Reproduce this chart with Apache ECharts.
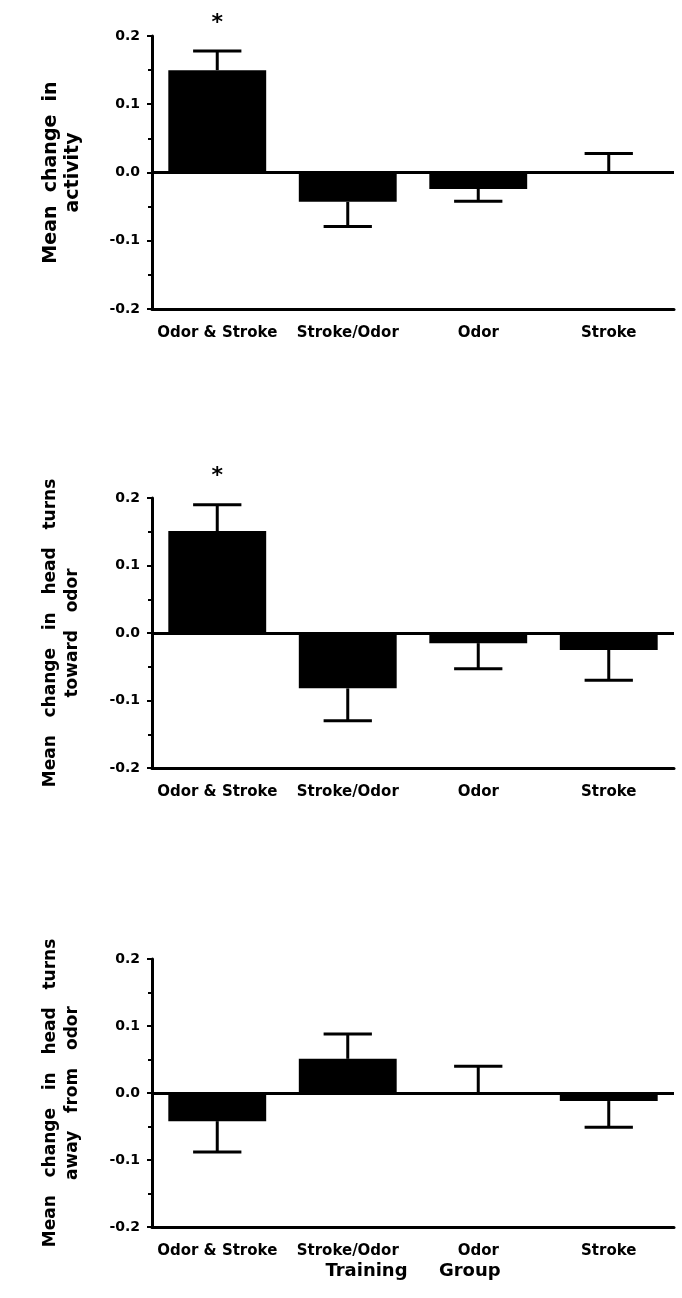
<!DOCTYPE html>
<html>
<head>
<meta charset="utf-8">
<script src="https://cdn.jsdelivr.net/npm/echarts@6/dist/echarts.min.js"></script>
<style>html,body{margin:0;padding:0;background:#fff;}#c{width:682px;height:1298px;}</style>
</head>
<body>
<div id="c"></div>
<script>
// ---- data ----
const categories = ['Odor & Stroke', 'Stroke/Odor', 'Odor', 'Stroke'];
const yTickLabels = ['-0.2', '-0.1', '0.0', '0.1', '0.2'];
const yTickValues = [-0.2, -0.1, 0.0, 0.1, 0.2];

const activityMean   = [0.150, -0.043, -0.024, 0.000];
const activityErrTip = [0.178, -0.079, -0.042, 0.028];
const activitySig    = ['*', '', '', ''];

const towardMean     = [0.151, -0.082, -0.015, -0.025];
const towardErrTip   = [0.190, -0.130, -0.053, -0.070];
const towardSig      = ['*', '', '', ''];

const awayMean       = [-0.042, 0.051, 0.000, -0.012];
const awayErrTip     = [-0.088, 0.088, 0.040, -0.051];
const awaySig        = ['', '', '', ''];

const yTitles = [
  'Mean  change  in\nactivity',
  'Mean   change   in   head   turns\ntoward   odor',
  'Mean   change   in   head   turns\naway   from   odor'
];
const xTitle = 'Training     Group';

// ---- layout ----
const panels = [
  { mean: activityMean, tip: activityErrTip, sig: activitySig, title: yTitles[0], top: 36,  height: 273, tsize: 19 },
  { mean: towardMean,   tip: towardErrTip,   sig: towardSig,   title: yTitles[1], top: 498, height: 270, tsize: 17 },
  { mean: awayMean,     tip: awayErrTip,     sig: awaySig,     title: yTitles[2], top: 959, height: 268, tsize: 17 }
];

const FONT = 'DejaVu Sans';
const grids = [], xAxes = [], yAxes = [], series = [];

panels.forEach((p, k) => {
  grids.push({ left: 152, right: 8, top: p.top, height: p.height });
  xAxes.push({
    type: 'category', gridIndex: k, data: categories,
    axisLine: { onZero: false, lineStyle: { color: '#000', width: 3 } },
    axisTick: { show: false },
    axisLabel: { interval: 0, color: '#000', fontFamily: FONT, fontWeight: 'bold', fontSize: 15, margin: 17 },
    name: k === 2 ? xTitle : '', nameLocation: 'middle', nameGap: 35,
    nameTextStyle: { color: '#000', fontFamily: FONT, fontWeight: 'bold', fontSize: 18 }
  });
  yAxes.push({
    type: 'value', gridIndex: k, min: -0.2, max: 0.2, interval: 0.1,
    splitLine: { show: false },
    axisLine: { show: true, lineStyle: { color: '#000', width: 3 } },
    axisTick: { show: true, length: 5, lineStyle: { color: '#000', width: 2 } },
    minorTick: { show: true, splitNumber: 2, length: 4, lineStyle: { color: '#000', width: 2 } },
    axisLabel: {
      color: '#000', fontFamily: FONT, fontWeight: 'bold', fontSize: 14, margin: 12,
      formatter: v => {
        const i = yTickValues.findIndex(t => Math.abs(t - v) < 1e-9);
        return i >= 0 ? yTickLabels[i] : '';
      }
    },
    name: p.title, nameLocation: 'middle', nameRotate: 90, nameGap: 68,
    nameTextStyle: { color: '#000', fontFamily: FONT, fontWeight: 'bold', fontSize: p.tsize, lineHeight: 22, align: 'center' }
  });
  series.push({
    type: 'bar', xAxisIndex: k, yAxisIndex: k, data: p.mean,
    barWidth: '75%', itemStyle: { color: '#000' }, silent: true,
    markLine: {
      silent: true, symbol: 'none', label: { show: false },
      lineStyle: { color: '#000', width: 3, type: 'solid' },
      data: [{ yAxis: 0 }], animation: false
    }
  });
  series.push({
    type: 'custom', xAxisIndex: k, yAxisIndex: k, silent: true,
    data: p.mean.map((m, i) => [i, m, p.tip[i]]),
    encode: { x: 0, y: [1, 2] },
    renderItem: (params, api) => {
      const i = api.value(0);
      const base = api.coord([i, api.value(1)]);
      const tip = api.coord([i, api.value(2)]);
      const half = api.size([1, 0])[0] * 0.185;
      const children = [
        { type: 'line', shape: { x1: base[0], y1: base[1], x2: tip[0], y2: tip[1] }, style: { stroke: '#000', lineWidth: 3 } },
        { type: 'line', shape: { x1: tip[0] - half, y1: tip[1], x2: tip[0] + half, y2: tip[1] }, style: { stroke: '#000', lineWidth: 3 } }
      ];
      const s = p.sig[params.dataIndex];
      if (s) {
        children.push({ type: 'text', style: { text: s, x: tip[0], y: tip[1] - 28, align: 'center', verticalAlign: 'middle', fill: '#000', font: 'bold 22px ' + FONT } });
      }
      return { type: 'group', children };
    }
  });
});

const chart = echarts.init(document.getElementById('c'), null, { renderer: 'canvas' });
chart.setOption({
  backgroundColor: '#fff',
  animation: false,
  grid: grids, xAxis: xAxes, yAxis: yAxes, series: series
});
</script>
</body>
</html>
